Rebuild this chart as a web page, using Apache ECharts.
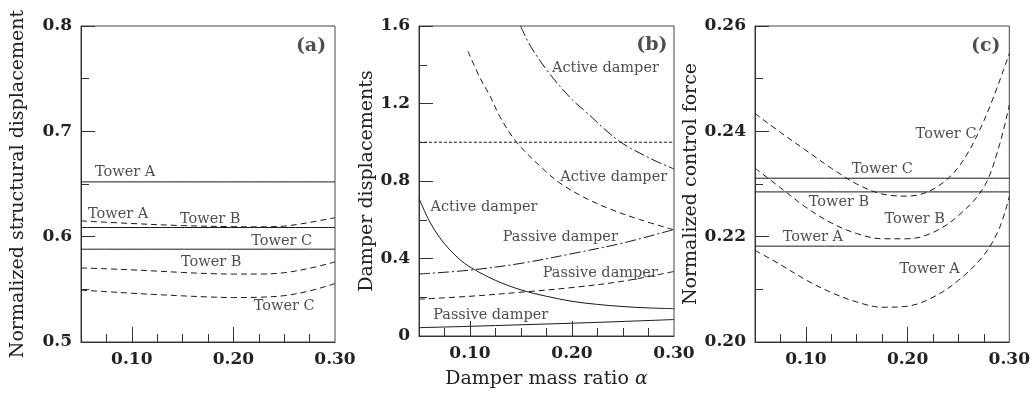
<!DOCTYPE html>
<html>
<head>
<meta charset="utf-8">
<title>Damper comparison</title>
<script src="https://cdn.jsdelivr.net/npm/echarts@6/dist/echarts.min.js"></script>
<style>
  html, body { margin: 0; padding: 0; background: #fff; }
  #chart { width: 1033px; height: 394px; }
</style>
</head>
<body>
<div id="chart"></div>
<script>
// ---- data ----
// (a) normalized structural displacement
var dispActiveA = [[0.05, 0.652], [0.30, 0.652]];
var dispActiveB = [[0.05, 0.6087], [0.30, 0.6087]];
var dispActiveC = [[0.05, 0.5881], [0.30, 0.5881]];
var dispPassiveA = [[0.05, 0.615], [0.10, 0.6125], [0.15, 0.6105], [0.20, 0.6095], [0.225, 0.6093], [0.25, 0.6100], [0.262, 0.6115], [0.275, 0.6135], [0.30, 0.618]];
var dispPassiveB = [[0.05, 0.5703], [0.075, 0.5695], [0.10, 0.5685], [0.125, 0.5673], [0.15, 0.566], [0.175, 0.565], [0.20, 0.5645], [0.225, 0.5645], [0.25, 0.5658], [0.275, 0.570], [0.30, 0.576]];
var dispPassiveC = [[0.05, 0.5491], [0.075, 0.5478], [0.10, 0.5463], [0.125, 0.545], [0.15, 0.5438], [0.175, 0.5428], [0.20, 0.5422], [0.225, 0.5425], [0.25, 0.544], [0.275, 0.5485], [0.30, 0.5555]];

// (b) damper displacements
var strokeLimit = [[0.05, 1.0], [0.30, 1.0]];
var dampActiveSolid = [[0.05, 0.71], [0.06, 0.595], [0.07, 0.51], [0.08, 0.446], [0.09, 0.395], [0.10, 0.356], [0.125, 0.287], [0.15, 0.238], [0.175, 0.205], [0.20, 0.179], [0.225, 0.163], [0.25, 0.152], [0.275, 0.145], [0.30, 0.141]];
var dampPassiveSolid = [[0.05, 0.043], [0.10, 0.050], [0.15, 0.058], [0.20, 0.066], [0.25, 0.075], [0.30, 0.085]];
var dampActiveDash = [[0.098, 1.47], [0.11, 1.33], [0.12, 1.235], [0.1293, 1.132], [0.1457, 1.0], [0.1717, 0.862], [0.188, 0.79], [0.2109, 0.718], [0.237, 0.656], [0.2664, 0.601], [0.30, 0.548]];
var dampPassiveDash = [[0.05, 0.19], [0.10, 0.205], [0.15, 0.226], [0.20, 0.25], [0.25, 0.283], [0.30, 0.333]];
var dampActiveDashDot = [[0.1495, 1.6], [0.16, 1.49], [0.1783, 1.352], [0.20, 1.22], [0.2109, 1.17], [0.2452, 1.01], [0.2762, 0.918], [0.30, 0.862]];
var dampPassiveDashDot = [[0.05, 0.32], [0.10, 0.34], [0.15, 0.375], [0.20, 0.425], [0.25, 0.48], [0.30, 0.55]];

// (c) normalized control force
var forceActiveA = [[0.05, 0.2182], [0.30, 0.2182]];
var forceActiveB = [[0.05, 0.2285], [0.30, 0.2285]];
var forceActiveC = [[0.05, 0.2311], [0.30, 0.2311]];
var forcePassiveA = [[0.05, 0.2174], [0.075, 0.2147], [0.10, 0.2118], [0.125, 0.2094], [0.15, 0.2076], [0.175, 0.2066], [0.20, 0.2068], [0.225, 0.2085], [0.25, 0.2117], [0.275, 0.2165], [0.29, 0.2215], [0.30, 0.2276]];
var forcePassiveB = [[0.05, 0.233], [0.075, 0.2293], [0.10, 0.2256], [0.125, 0.2226], [0.15, 0.2206], [0.175, 0.2196], [0.20, 0.2196], [0.225, 0.2208], [0.25, 0.224], [0.275, 0.2294], [0.29, 0.2372], [0.30, 0.245]];
var forcePassiveC = [[0.05, 0.2434], [0.075, 0.2398], [0.10, 0.2364], [0.125, 0.233], [0.15, 0.23], [0.175, 0.2281], [0.20, 0.2277], [0.225, 0.229], [0.25, 0.2332], [0.275, 0.242], [0.30, 0.2548]];

// tick labels
var xLabelValues = [0.10, 0.20, 0.30];
var xMajorTicks = [0.10, 0.20];
var xMinorTicks = [0.075, 0.125, 0.15, 0.175, 0.225, 0.25, 0.275];

// curve annotations [x, y, text]
var notesA = [[0.0633, 0.6608, 'Tower A'], [0.0564, 0.6213, 'Tower A'], [0.1469, 0.6166, 'Tower B'],
              [0.2171, 0.5959, 'Tower C'], [0.1479, 0.5759, 'Tower B'], [0.2196, 0.5341, 'Tower C']];
var notesB = [[0.1799, 1.382, 'Active damper'], [0.188, 0.8195, 'Active damper'], [0.0608, 0.6624, 'Active damper'],
              [0.1316, 0.5114, 'Passive damper'], [0.1708, 0.3254, 'Passive damper'], [0.0634, 0.1059, 'Passive damper']];
var notesC = [[0.2074, 0.2395, 'Tower C'], [0.1447, 0.2328, 'Tower C'], [0.1023, 0.2265, 'Tower B'],
              [0.1768, 0.2233, 'Tower B'], [0.0768, 0.2198, 'Tower A'], [0.1915, 0.2138, 'Tower A']];
var panelTags = [[0.2918, 0.7812, '(a)'], [0.2941, 1.4997, '(b)'], [0.2918, 0.2562, '(c)']];

var FONT = 'DejaVu Serif';
var INK = '#222';

var grids = [
    {left: 81, top: 26, width: 254, height: 316},
    {left: 419, top: 26, width: 255, height: 316},
    {left: 755, top: 26, width: 255, height: 316}
].map(function (g) {
    g.show = true;
    g.borderColor = '#444';
    g.borderWidth = 1;
    return g;
});

function majorX(i, name) {
    return {
        type: 'value', gridIndex: i, min: 0.05, max: 0.30,
        name: name || '', nameLocation: 'middle', nameGap: 34,
        nameTextStyle: {fontFamily: FONT, fontSize: 19, color: INK,
            rich: {i: {fontFamily: FONT, fontSize: 19, fontStyle: 'italic', color: INK}}},
        splitLine: {show: false},
        axisLine: {lineStyle: {color: '#333', width: 1}},
        axisTick: {inside: true, length: 15, customValues: xMajorTicks, lineStyle: {color: '#333'}},
        axisLabel: {customValues: xLabelValues, margin: 9, fontFamily: FONT, fontSize: 17,
            fontWeight: 'bold', color: INK, formatter: function (v) { return v.toFixed(2); }}
    };
}

function minorX(i) {
    return {
        type: 'value', gridIndex: i, min: 0.05, max: 0.30, position: 'bottom',
        splitLine: {show: false},
        axisLine: {show: false},
        axisTick: {inside: true, length: 8, customValues: xMinorTicks, lineStyle: {color: '#333'}},
        axisLabel: {show: false}
    };
}

function yAx(i, min, max, step, name, gap, fmt) {
    return {
        type: 'value', gridIndex: i, min: min, max: max, interval: step,
        name: name, nameLocation: 'middle', nameRotate: 90, nameGap: gap,
        nameTextStyle: {fontFamily: FONT, fontSize: 19, color: INK},
        splitLine: {show: false},
        axisLine: {lineStyle: {color: '#333', width: 1}},
        axisTick: {inside: true, length: 14, lineStyle: {color: '#333'}},
        minorTick: {show: true, splitNumber: 2, length: 8, lineStyle: {color: '#333'}},
        minorSplitLine: {show: false},
        axisLabel: {margin: 9, fontFamily: FONT, fontSize: 17, fontWeight: 'bold', color: INK, formatter: fmt}
    };
}

function curve(data, xi, type) {
    return {
        type: 'line', xAxisIndex: xi, yAxisIndex: xi, data: data,
        showSymbol: false, symbol: 'none', smooth: 0.35, silent: true,
        lineStyle: {color: '#1a1a1a', width: 1, type: type}
    };
}

function notes(data, xi, pos, size, weight) {
    return {
        type: 'scatter', xAxisIndex: xi, yAxisIndex: xi, data: data,
        symbolSize: 1, itemStyle: {color: 'transparent'}, silent: true,
        label: {show: true, position: pos, distance: 0, fontFamily: FONT, fontSize: size,
            fontWeight: weight, color: INK, formatter: function (p) { return p.value[2]; }}
    };
}

var DASH = [6, 4];
var DASHDOT = [11, 3, 2, 3];
var DOT = [3, 2];

var option = {
    animation: false,
    backgroundColor: '#fff',
    grid: grids,
    xAxis: [majorX(0), majorX(1, 'Damper mass ratio {i|α}'), majorX(2), minorX(0), minorX(1), minorX(2)],
    yAxis: [
        yAx(0, 0.5, 0.8, 0.1, 'Normalized structural displacement', 53, function (v) { return v.toFixed(1); }),
        yAx(1, 0, 1.6, 0.4, 'Damper displacements', 42, function (v) { return v === 0 ? '0' : v.toFixed(1); }),
        yAx(2, 0.20, 0.26, 0.02, 'Normalized control force', 52, function (v) { return v.toFixed(2); })
    ],
    series: [
        curve(dispActiveA, 0, 'solid'),
        curve(dispActiveB, 0, 'solid'),
        curve(dispActiveC, 0, 'solid'),
        curve(dispPassiveA, 0, DASH),
        curve(dispPassiveB, 0, DASH),
        curve(dispPassiveC, 0, DASH),
        curve(strokeLimit, 1, DOT),
        curve(dampActiveSolid, 1, 'solid'),
        curve(dampPassiveSolid, 1, 'solid'),
        curve(dampActiveDash, 1, DASH),
        curve(dampPassiveDash, 1, DASH),
        curve(dampActiveDashDot, 1, DASHDOT),
        curve(dampPassiveDashDot, 1, DASHDOT),
        curve(forceActiveA, 2, 'solid'),
        curve(forceActiveB, 2, 'solid'),
        curve(forceActiveC, 2, 'solid'),
        curve(forcePassiveA, 2, DASH),
        curve(forcePassiveB, 2, DASH),
        curve(forcePassiveC, 2, DASH),
        notes(notesA, 0, 'right', 14.5, 'normal'),
        notes(notesB, 1, 'right', 14.5, 'normal'),
        notes(notesC, 2, 'right', 14.5, 'normal'),
        notes([panelTags[0]], 0, 'left', 19, 'bold'),
        notes([panelTags[1]], 1, 'left', 19, 'bold'),
        notes([panelTags[2]], 2, 'left', 19, 'bold')
    ]
};

var chart = echarts.init(document.getElementById('chart'), null, {renderer: 'canvas'});
chart.setOption(option);
</script>
</body>
</html>
